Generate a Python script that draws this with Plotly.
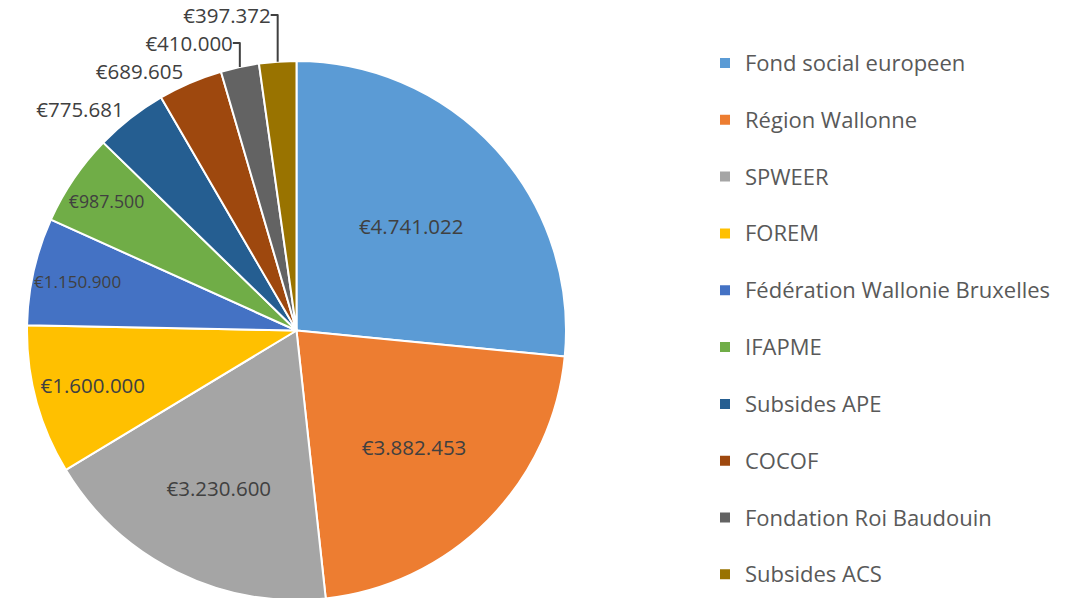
import plotly.graph_objects as go

labels = ["Fond social europeen", "Région Wallonne", "SPWEER", "FOREM",
          "Fédération Wallonie Bruxelles", "IFAPME", "Subsides APE", "COCOF",
          "Fondation Roi Baudouin", "Subsides ACS"]
values = [4741022, 3882453, 3230600, 1600000, 1150900, 987500, 775681, 689605, 410000, 397372]
colors = ["#5B9BD5", "#ED7D31", "#A5A5A5", "#FFC000", "#4472C4", "#70AD47",
          "#255E91", "#9E480E", "#636363", "#997300"]
positions = ["inside"] * 6 + ["outside"] * 4

W, H = 1079, 598
FONT = "Open Sans"

# legend entries: an extra blank line gives the wide Excel-like spacing
legend_labels = []
for i, l in enumerate(labels):
    s = "<span style='font-size:22px'>%s</span>" % l
    if i < len(labels) - 1:
        s += "<br> "
    legend_labels.append(s)

fig = go.Figure(go.Pie(
    labels=legend_labels,
    values=values,
    sort=False,
    direction="clockwise",
    rotation=0,
    marker=dict(colors=colors, line=dict(color="white", width=2)),
    texttemplate="€%{value:,.0f}",
    textposition=positions,
    insidetextorientation="horizontal",
    textfont=dict(family=FONT, size=20.5, color="#404040"),
    hoverinfo="label+value+percent",
    domain=dict(x=[19 / W, 558 / W], y=[1 - 592 / H, 1 - 53 / H]),
))

fig.update_layout(
    width=W, height=H,
    margin=dict(l=0, r=0, t=0, b=0, autoexpand=False),
    paper_bgcolor="white",
    separators=",.",
    font=dict(family=FONT, color="#595959"),
    legend=dict(
        x=697 / W, y=1 - 35 / H, xanchor="left", yanchor="top",
        font=dict(family=FONT, size=20.7, color="#595959"),
        valign="top",
        itemclick=False,
    ),
    showlegend=True,
)

fig.write_html("out.html")
